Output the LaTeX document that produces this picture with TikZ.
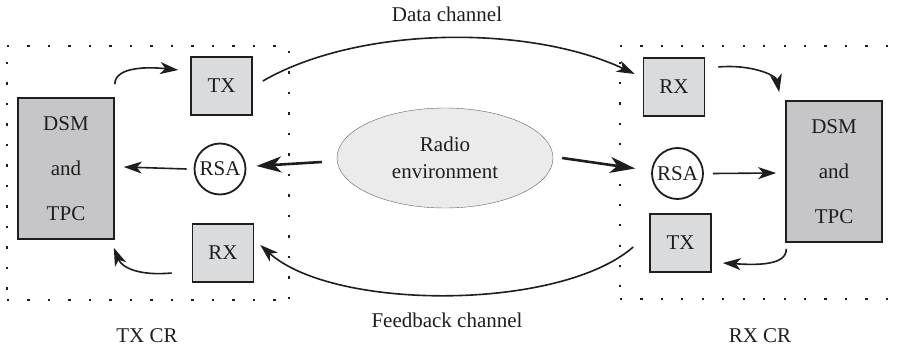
\documentclass[tikz,border=0pt]{standalone}
\usepackage{fontspec}
\setmainfont{Liberation Serif}
\usetikzlibrary{arrows.meta,shapes.geometric,calc}

\definecolor{blockfill}{RGB}{198,198,200}
\definecolor{unitfill}{RGB}{218,219,221}
\definecolor{envfill}{RGB}{235,235,235}
\definecolor{ink}{RGB}{30,30,30}

\tikzset{
  txt/.style={font=\fontsize{21}{25}\selectfont, text=ink},
  bigblock/.style={draw=ink, line width=1.6pt, fill=blockfill, minimum width=96pt,
    minimum height=141pt, inner sep=0pt, align=center,
    font=\fontsize{21}{45}\selectfont, text=ink},
  unit/.style={draw=ink, line width=1.6pt, fill=unitfill, minimum width=61pt,
    minimum height=58pt, inner sep=0pt, txt},
  sensor/.style={circle, draw=ink, line width=1.8pt, fill=white, minimum size=51pt,
    inner sep=0pt, txt},
  envnode/.style={ellipse, draw=ink!70, line width=0.4pt, fill=envfill,
    minimum width=216pt, minimum height=100pt, inner sep=0pt, align=center,
    font=\fontsize{21}{27}\selectfont, text=ink},
  flow/.style={draw=ink, line width=1.6pt, -{Stealth[length=18pt,width=12pt,inset=5pt]}},
  sense/.style={draw=ink, line width=2.6pt, -{Stealth[length=25pt,width=16pt,inset=7pt]}},
  lbl/.style={txt, anchor=base, inner sep=0pt}
}

\begin{document}
\begin{tikzpicture}[x=1pt,y=-1pt]
\useasboundingbox (0,0) rectangle (901,347);

% dotted outlines of the two cognitive radios
\def\dotsq#1#2{\fill[ink] (#1-1.1,#2-1.1) rectangle (#1+1.1,#2+1.1);}
\foreach \i in {0,...,13} {
  \pgfmathsetmacro\xx{8+20.5*\i}
  \dotsq{\xx}{46}
  \dotsq{\xx}{300}
}
\foreach \j in {0,...,11} {
  \pgfmathsetmacro\yy{63+20.5*\j}
  \dotsq{7}{\yy}
}
\foreach \j in {0,...,12} {
  \pgfmathsetmacro\yy{52+20.5*\j}
  \dotsq{289}{\yy}
}
\foreach \i in {0,...,13} {
  \pgfmathsetmacro\xx{621+20.45*\i}
  \dotsq{\xx}{46}
  \dotsq{\xx}{299}
}
\foreach \j in {0,...,11} {
  \pgfmathsetmacro\yy{63+20.3*\j}
  \dotsq{620}{\yy}
}

% transmitter side
\node[bigblock] (dsmL) at (66,168.5) {DSM\\and\\TPC};
\node[unit] (txL) at (221.5,86) {TX};
\node[sensor] (rsaL) at (220,169) {RSA};
\node[unit] (rxL) at (223,253) {RX};

% receiver side
\node[unit] (rxR) at (674,87) {RX};
\node[sensor] (rsaR) at (677.5,173.5) {RSA};
\node[unit] (txR) at (680.5,243) {TX};
\node[bigblock] (dsmR) at (834,171.5) {DSM\\and\\TPC};

% shared radio environment
\node[envnode] (env) at (445,158) {Radio\\environment};

% labels
\node[lbl] (dlab) at (447,22) {Data channel};
\node[lbl] (flab) at (447,327) {Feedback channel};
\node[lbl] (txcr) at (147,342) {TX CR};
\node[lbl] (rxcr) at (760,342) {RX CR};

% channels between the radios
\draw[flow] ([shift={(10,-5)}]txL.east) .. controls (360,25) and (531,25) .. ([shift={(-8,-13)}]rxR.west);
\draw[flow] ([shift={(-16,4)}]txR.west) .. controls (560,311) and (334,311) .. ([shift={(6,-8)}]rxL.east);

% spectrum sensing
\draw[sense] ([shift={(-15,4)}]env.west) -- ([shift={(10,-3)}]rsaL.east);
\draw[sense] ([shift={(9,0)}]env.east) -- ([shift={(-16,-5)}]rsaR.west);
\draw[flow] ([shift={(-7,0)}]rsaL.west) -- ([shift={(9,-1.5)}]dsmL.east);
\draw[flow] ([shift={(9,0)}]rsaR.east) -- ([shift={(-9,1.5)}]dsmR.west);

% links inside each radio
\draw[flow] ([shift={(0,-13)}]dsmL.north east) .. controls (115,66) and (150,67) .. ([shift={(-12,-16)}]txL.west);
\draw[flow] ([shift={(-20,20)}]rxL.west) .. controls (140,276) and (122,268) .. ([shift={(-1,8)}]dsmL.south east);
\draw[flow] ([shift={(13,-20)}]rxR.east) .. controls (750,64) and (776,75) .. ([shift={(-6,-8)}]dsmR.north west);
\draw[flow] ([shift={(1,6)}]dsmR.south west) .. controls (787,266) and (755,265) .. ([shift={(11,20)}]txR.east);
\end{tikzpicture}
\end{document}
